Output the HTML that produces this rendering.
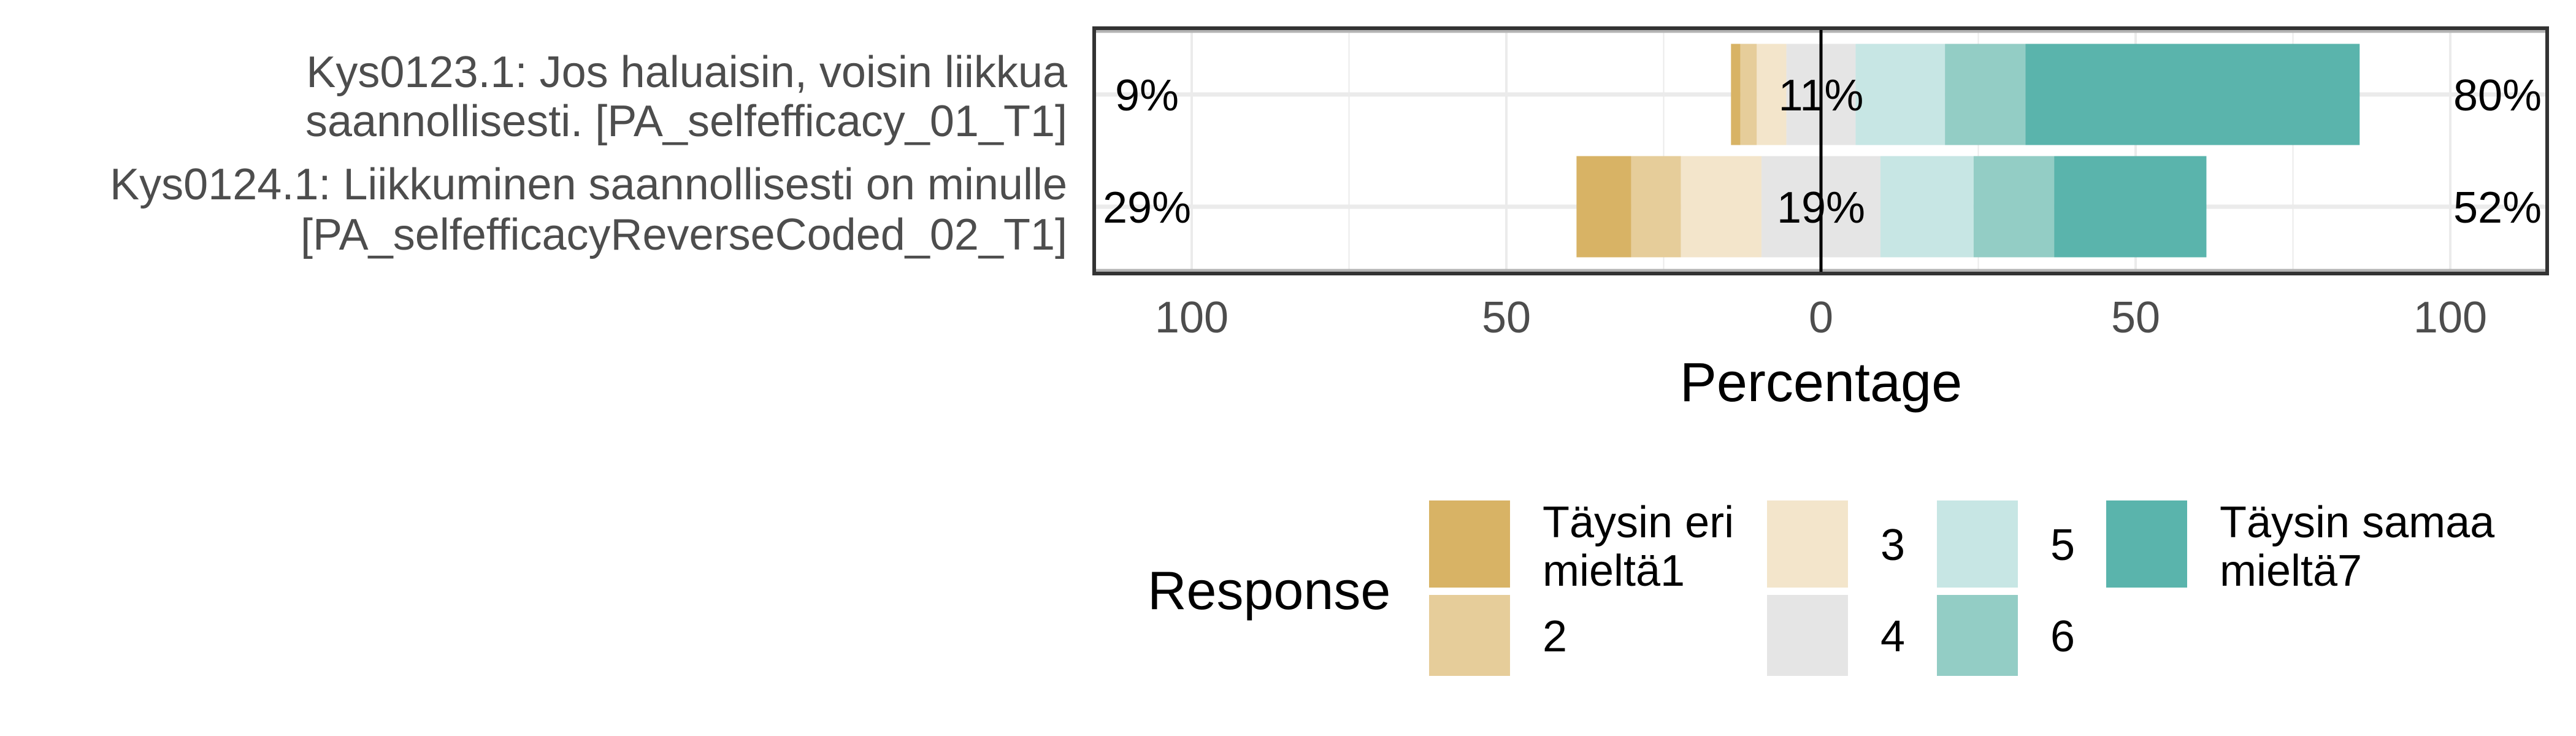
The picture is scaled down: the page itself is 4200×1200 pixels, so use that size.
<!DOCTYPE html>
<html><head><meta charset="utf-8"><style>
html,body{margin:0;padding:0;background:#fff;}
svg{display:block;font-family:"Liberation Sans",Arial,sans-serif;}
</style></head><body>
<svg id="chart" width="4200" height="1200" viewBox="0 0 4200 1200" xmlns="http://www.w3.org/2000/svg">
<g id="ylabels" fill="#4d4d4d" font-size="72" text-anchor="end">
<text x="1740" y="142">Kys0123.1: Jos haluaisin, voisin liikkua</text>
<text x="1740" y="222">saannollisesti. [PA_selfefficacy_01_T1]</text>
<text x="1740" y="325">Kys0124.1: Liikkuminen saannollisesti on minulle</text>
<text x="1740" y="407">[PA_selfefficacyReverseCoded_02_T1]</text>
</g>
<g id="grid"></g>
<g id="bars"></g>
<g id="labels" font-size="72" fill="#000"></g>
<g id="xticks" font-size="72" fill="#4d4d4d" text-anchor="middle"></g>
<text x="2969" y="654" font-size="90" text-anchor="middle" fill="#000">Percentage</text>
<g id="legend">
<text x="1871" y="993" font-size="88" fill="#000">Response</text>
</g>
</svg>
<script>
const categories = ["Kys0123.1", "Kys0124.1"];
const levels = ["Täysin eri mieltä1", "2", "3", "4", "5", "6", "Täysin samaa mieltä7"];
const colors = ["#d8b365", "#e6cd9a", "#f3e5cb", "#e5e5e5", "#c7e6e4", "#93cdc5", "#5ab4ac"];
const row1Values = [1.5, 2.6, 4.7, 11.0, 14.2, 12.8, 53.1];
const row2Values = [8.7, 7.9, 12.8, 18.9, 14.8, 12.8, 24.2];
const lowLabels = ["9%", "29%"];
const midLabels = ["11%", "19%"];
const highLabels = ["80%", "52%"];
const xTicks = [-100, -50, 0, 50, 100];
const xTickLabels = ["100", "50", "0", "50", "100"];

const NS = "http://www.w3.org/2000/svg";
const PL = 1784, PR = 4153, PT = 46, PB = 446;
const x = v => 2969 + v * 10.26;
const rowY = i => [154, 337][i];
const BH = 165;
function mk(tag, attrs, parent) {
  const e = document.createElementNS(NS, tag);
  for (const k in attrs) e.setAttribute(k, attrs[k]);
  parent.appendChild(e);
  return e;
}
const grid = document.getElementById('grid');
const bars = document.getElementById('bars');
const labels = document.getElementById('labels');
const xt = document.getElementById('xticks');
const legend = document.getElementById('legend');

let pb = mk('rect', {x: PL, y: PT, width: PR - PL, height: PB - PT, fill: '#fff'}, grid);


for (let v = -125; v <= 125; v += 25) {
  if (x(v) < PL || x(v) > PR) continue;
  const major = v % 50 === 0;
  let l = mk('line', {x1: x(v), x2: x(v), y1: PT, y2: PB, stroke: '#ebebeb', 'stroke-width': major ? 4 : 2}, grid);
  
  
}
categories.forEach((c, i) => {
  let l = mk('line', {x1: PL, x2: PR, y1: rowY(i), y2: rowY(i), stroke: '#ebebeb', 'stroke-width': 7}, grid);
  
  
});
[PT + 5, PB - 5].forEach(yy => {
  let l = mk('line', {x1: PL, x2: PR, y1: yy, y2: yy, stroke: '#b3b3b3', 'stroke-width': 5}, grid);
  
  
});

const rows = [row1Values, row2Values];
rows.forEach((vals, i) => {
  const neg = vals[0] + vals[1] + vals[2] + vals[3] / 2;
  let start = -neg;
  vals.forEach((v, j) => {
    const r = mk('rect', {x: x(start), y: rowY(i) - BH / 2, width: x(start + v) - x(start), height: BH, fill: colors[j]}, bars);
    
    
    start += v;
  });
});
let zl = mk('line', {x1: x(0), x2: x(0), y1: PT, y2: PB, stroke: '#000', 'stroke-width': 5}, bars);


let border = mk('rect', {x: PL, y: PT, width: PR - PL, height: PB - PT, fill: 'none', stroke: '#333', 'stroke-width': 6}, bars);



categories.forEach((c, i) => {
  const yb = rowY(i) + 26;
  let t = mk('text', {x: 1870, y: yb, 'text-anchor': 'middle'}, labels);
  t.textContent = lowLabels[i];
  
  
  t = mk('text', {x: x(0), y: yb, 'text-anchor': 'middle'}, labels);
  t.textContent = midLabels[i];
  
  
  t = mk('text', {x: 4072, y: yb, 'text-anchor': 'middle'}, labels);
  t.textContent = highLabels[i];
  
  
});

xTicks.forEach((v, i) => {
  const t = mk('text', {x: x(v), y: 542}, xt);
  t.textContent = xTickLabels[i];
  
  
});

const keyCols = [2330, 2881, 3158, 3434];
const legendItems = [
  {col: 0, y: 816, h: 142, lines: ["Täysin eri", "mieltä1"]},
  {col: 0, y: 970, h: 132, lines: ["2"]},
  {col: 1, y: 816, h: 142, lines: ["3"]},
  {col: 1, y: 970, h: 132, lines: ["4"]},
  {col: 2, y: 816, h: 142, lines: ["5"]},
  {col: 2, y: 970, h: 132, lines: ["6"]},
  {col: 3, y: 816, h: 142, lines: ["Täysin samaa", "mieltä7"]}
];
legendItems.forEach((it, j) => {
  const kx = keyCols[it.col];
  const r = mk('rect', {x: kx, y: it.y, width: 132, height: it.h, fill: colors[j]}, legend);
  
  
  const tx = kx + 185;
  if (it.lines.length === 2) {
    [876, 955].forEach((yy, k) => {
      const t = mk('text', {x: tx, y: yy, 'font-size': 72, fill: '#000'}, legend);
      t.textContent = it.lines[k];
      
      
    });
  } else {
    const t = mk('text', {x: tx, y: it.y + it.h / 2 + 26, 'font-size': 72, fill: '#000'}, legend);
    t.textContent = it.lines[0];
    
    
  }
});
</script>
</body></html>
